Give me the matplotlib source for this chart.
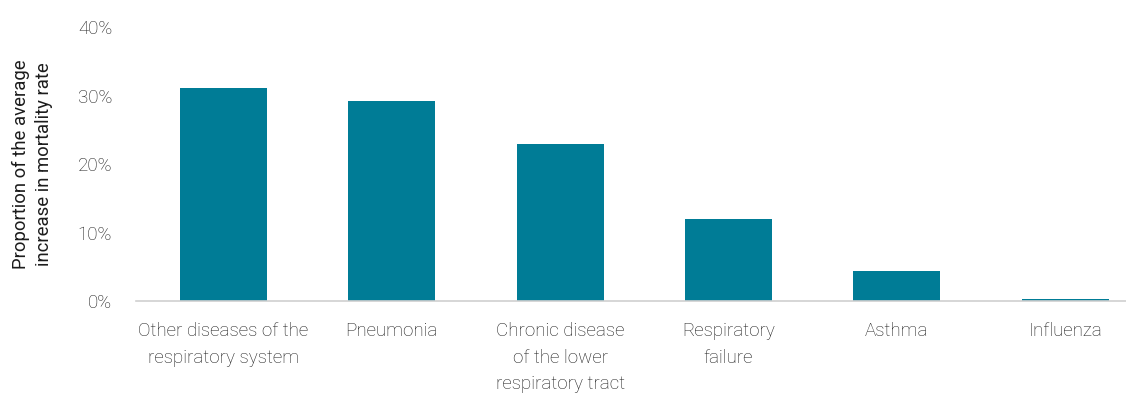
import matplotlib
matplotlib.use("Agg")
import matplotlib.pyplot as plt
from matplotlib.ticker import PercentFormatter

# Share of the average rise in mortality rate, by respiratory cause
causes = [
    "Other diseases of the\nrespiratory system",
    "Pneumonia",
    "Chronic disease\nof the lower\nrespiratory tract",
    "Respiratory\nfailure",
    "Asthma",
    "Influenza",
]
share_pct = [31.1, 29.2, 22.9, 12.0, 4.4, 0.25]
y_ticks = [0, 10, 20, 30, 40]

bar_color = "#007C96"
text_color = "#1c1c1c"

plt.rcParams["font.family"] = ["Roboto", "DejaVu Sans"]
plt.rcParams["font.weight"] = "light"

fig = plt.figure(figsize=(11.26, 3.94), dpi=100)
ax = fig.add_axes([0.1205, 0.236, 0.8795, 0.695])

x = list(range(len(causes)))
ax.bar(x, share_pct, width=0.517, color=bar_color, zorder=2)

ax.set_xlim(-0.52, 5.36)
ax.set_ylim(0, 40)
ax.set_yticks(y_ticks)
ax.yaxis.set_major_formatter(PercentFormatter(decimals=0))
ax.set_xticks(x)
ax.set_xticklabels(causes, linespacing=1.62)

ax.tick_params(axis="both", length=0, labelsize=13.5, colors=text_color)
ax.tick_params(axis="x", pad=15)
ax.tick_params(axis="y", pad=17)

for side in ["top", "right", "left"]:
    ax.spines[side].set_visible(False)
ax.spines["bottom"].set_color("#d0d0d0")
ax.spines["bottom"].set_linewidth(1.2)

ax.set_ylabel("Proportion of the average\nincrease in mortality rate",
              fontsize=13.3, color=text_color, linespacing=1.3, labelpad=18)

fig.savefig("out.png", dpi=100)
